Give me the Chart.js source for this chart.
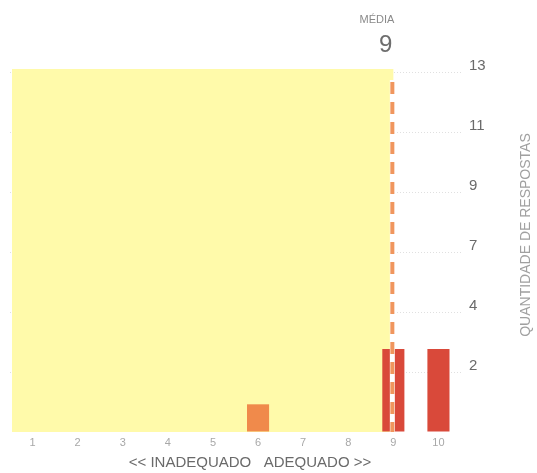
<!DOCTYPE html>
<html>
<head>
<meta charset="utf-8">
<script src="https://cdn.jsdelivr.net/npm/chart.js@4"></script>
<style>
  html, body { margin: 0; padding: 0; background: #ffffff; }
  #wrap { width: 537px; height: 473px; position: relative; }
</style>
</head>
<body>
<div id="wrap"><canvas id="c" width="537" height="473"></canvas></div>
<script>
// ---- data ----
const categories = ['1', '2', '3', '4', '5', '6', '7', '8', '9', '10'];
const responses  = [0, 0, 0, 0, 0, 1, 0, 0, 3, 3];
const barColors  = ['#f08a4b', '#f08a4b', '#f08a4b', '#f08a4b', '#f08a4b', '#f08a4b', '#d9493a', '#d9493a', '#d9493a', '#d9493a'];
const yTickLabels = ['', '2', '4', '7', '9', '11', '13'];
const yMax = 13;
const meanLabel = 'MÉDIA';
const meanValue = '9';
const xTitle = '<< INADEQUADO   ADEQUADO >>';
const yTitle = 'QUANTIDADE DE RESPOSTAS';

const FONT = '"Liberation Sans", Arial, sans-serif';

const decor = {
  id: 'decor',
  beforeDatasetsDraw(chart) {
    const { ctx, chartArea, scales } = chart;
    const mx = scales.x.getPixelForValue(categories.indexOf(meanValue));
    ctx.save();
    ctx.fillStyle = '#fffaaa';
    ctx.fillRect(chartArea.left + 2, chartArea.top - 3, mx - chartArea.left - 2, chartArea.bottom - chartArea.top + 3);
    ctx.restore();
  },
  afterDatasetsDraw(chart) {
    const { ctx, chartArea, scales } = chart;
    const mx = scales.x.getPixelForValue(categories.indexOf(meanValue)) - 1;
    ctx.save();
    ctx.strokeStyle = '#ffffff';
    ctx.lineWidth = 5;
    ctx.beginPath();
    ctx.moveTo(mx, chartArea.top + 8);
    ctx.lineTo(mx, chartArea.bottom);
    ctx.stroke();
    ctx.strokeStyle = '#f0965e';
    ctx.lineWidth = 4;
    ctx.setLineDash([12, 8]);
    ctx.beginPath();
    ctx.moveTo(mx, chartArea.top + 10);
    ctx.lineTo(mx, chartArea.bottom);
    ctx.stroke();
    ctx.restore();
  },
  afterDraw(chart) {
    const { ctx, scales } = chart;
    const mx = scales.x.getPixelForValue(categories.indexOf(meanValue));
    ctx.save();
    ctx.fillStyle = '#8a8a8a';
    ctx.textAlign = 'right';
    ctx.textBaseline = 'middle';
    ctx.font = '11px ' + FONT;
    ctx.fillText(meanLabel, mx + 1, 20);
    ctx.fillStyle = '#6e6e6e';
    ctx.font = '24px ' + FONT;
    ctx.fillText(meanValue, mx - 1, 45);

    ctx.fillStyle = '#6a6a6a';
    ctx.textAlign = 'center';
    ctx.font = '15px ' + FONT;
    ctx.fillText(xTitle, 250, 463);

    ctx.translate(526, 235);
    ctx.rotate(-Math.PI / 2);
    ctx.fillStyle = '#a0a0a0';
    ctx.font = '14px ' + FONT;
    ctx.fillText(yTitle, 0, 0);
    ctx.restore();
  }
};

new Chart(document.getElementById('c'), {
  type: 'bar',
  data: {
    labels: categories,
    datasets: [{
      data: responses,
      backgroundColor: responses.map((v, i) => barColors[i]),
      borderWidth: 0,
      barPercentage: 0.49,
      categoryPercentage: 1.0
    }]
  },
  options: {
    responsive: false,
    devicePixelRatio: 1,
    animation: false,
    layout: { padding: { left: 10, top: 72, right: 0, bottom: 0 } },
    plugins: { legend: { display: false }, tooltip: { enabled: false }, title: { display: false } },
    scales: {
      x: {
        grid: { display: false, drawTicks: false },
        border: { display: false },
        ticks: { color: '#a8a8a8', font: { family: FONT, size: 11 }, padding: 4, maxRotation: 0 },
        afterFit(axis) { axis.height = 41; }
      },
      y: {
        position: 'right',
        min: 0,
        max: yMax,
        grid: {
          drawTicks: false,
          color: (c) => c.index === 0 ? 'rgba(0,0,0,0)' : 'rgba(0,0,0,0.12)',
          lineWidth: 1
        },
        border: { display: false, dash: [1, 2] },
        afterBuildTicks(axis) {
          axis.ticks = yTickLabels.map((t, i) => ({ value: i * yMax / (yTickLabels.length - 1) }));
        },
        ticks: {
          color: '#6a6a6a',
          font: { family: FONT, size: 15 },
          padding: 8,
          labelOffset: -6,
          callback: (v, i) => yTickLabels[i]
        },
        afterFit(axis) { axis.width = 76; }
      }
    }
  },
  plugins: [decor]
});
</script>
</body>
</html>
